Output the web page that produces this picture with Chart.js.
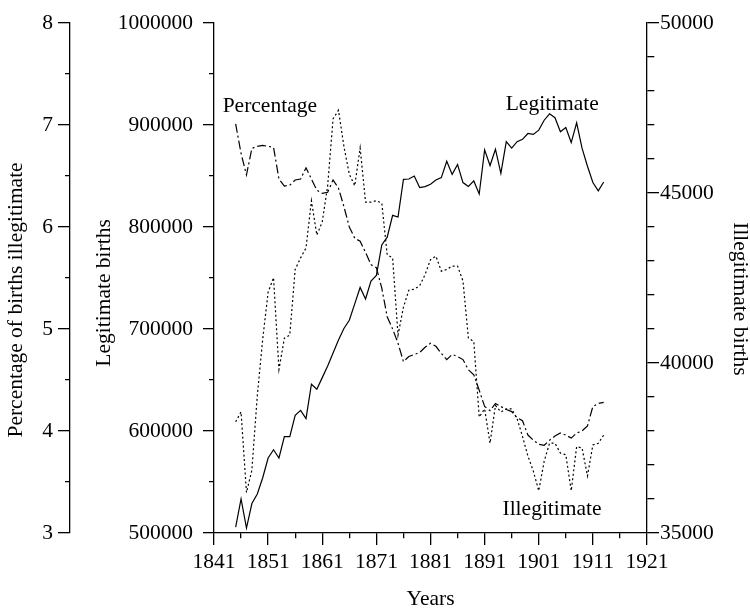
<!DOCTYPE html>
<html>
<head>
<meta charset="utf-8">
<script src="https://cdn.jsdelivr.net/npm/chart.js@4.4.1/dist/chart.umd.min.js"></script>
<style>
  html, body { margin: 0; padding: 0; background: #fff; }
  #wrap { width: 750px; height: 611px; }
</style>
</head>
<body>
<div id="wrap"><canvas id="birthschart" width="750" height="611"></canvas></div>
<script>
// Births in England & Wales
var years = [1845, 1846, 1847, 1848, 1849, 1850, 1851, 1852, 1853, 1854,
  1855, 1856, 1857, 1858, 1859, 1860, 1861, 1862, 1863, 1864,
  1865, 1866, 1867, 1868, 1869, 1870, 1871, 1872, 1873, 1874,
  1875, 1876, 1877, 1878, 1879, 1880, 1881, 1882, 1883, 1884,
  1885, 1886, 1887, 1888, 1889, 1890, 1891, 1892, 1893, 1894,
  1895, 1896, 1897, 1898, 1899, 1900, 1901, 1902, 1903, 1904,
  1905, 1906, 1907, 1908, 1909, 1910, 1911, 1912, 1913];

var legitimate = [505800, 533400, 504800, 528900, 538200, 554200, 573500, 581600, 573500, 594400,
  594400, 615400, 620200, 612100, 645800, 641000, 652300, 663600, 676400, 689200,
  700500, 708500, 724600, 740700, 729400, 747000, 752500, 782400, 790000, 811400,
  809700, 846700, 847000, 849900, 838600, 839500, 841900, 846000, 848300, 864400,
  851500, 861200, 843500, 839600, 845100, 832300, 875600, 860200, 876200, 852500,
  883600, 877200, 883600, 885900, 891600, 890700, 894900, 904600, 910900, 907100,
  893300, 897400, 882700, 902000, 877200, 859500, 843500, 835400, 844100];

var illegitimate = [38270, 38560, 36190, 36850, 39040, 40700, 42080, 42510, 39810, 40730,
  40820, 42750, 43090, 43380, 44770, 43760, 44150, 45210, 47180, 47430,
  46370, 45550, 45210, 46320, 44730, 44730, 44770, 44700, 43180, 43090,
  40820, 41640, 42140, 42170, 42270, 42600, 43040, 43140, 42700, 42750,
  42850, 42850, 42410, 40730, 40630, 38410, 38650, 37640, 38750, 38560,
  38650, 38650, 38360, 37840, 37260, 36820, 36240, 37110, 37640, 37640,
  37350, 37300, 36240, 37540, 37500, 36680, 37590, 37640, 37880];

var percentage = [7.01, 6.72, 6.51, 6.77, 6.79, 6.80, 6.79, 6.78, 6.47, 6.40,
  6.41, 6.46, 6.47, 6.58, 6.47, 6.36, 6.33, 6.34, 6.46, 6.38,
  6.20, 6.00, 5.89, 5.86, 5.75, 5.63, 5.60, 5.40, 5.12, 5.00,
  4.86, 4.68, 4.73, 4.75, 4.77, 4.82, 4.86, 4.83, 4.76, 4.70,
  4.75, 4.73, 4.70, 4.60, 4.55, 4.40, 4.24, 4.20, 4.27, 4.24,
  4.21, 4.19, 4.13, 4.10, 3.96, 3.91, 3.87, 3.86, 3.91, 3.95,
  3.98, 3.96, 3.93, 3.98, 4.00, 4.05, 4.24, 4.27, 4.28];

// labelled ticks (the rest are minor ticks)
var yearLabels = [1841, 1851, 1861, 1871, 1881, 1891, 1901, 1911, 1921];
var pctLabels = [3, 4, 5, 6, 7, 8];
var legitLabels = [500000, 600000, 700000, 800000, 900000, 1000000];
var illegLabels = [35000, 40000, 45000, 50000];

function points(values) {
  return years.map(function (yr, i) { return { x: yr, y: values[i] }; });
}

function isMajor(list, v) {
  return list.indexOf(v) >= 0;
}

// minor ticks: only the part of the tick line next to the axis is drawn.
// bottom/right ticks are stroked from the axis outwards, left ones towards it
function minorDash(list, len, tickLen, fromOutside) {
  return function (ctx) {
    if (isMajor(list, ctx.tick.value)) return [];
    return fromOutside ? [0, tickLen - len, len, 100] : [len, 100];
  };
}

function tickLabel(list) {
  return function (v) { return isMajor(list, v) ? String(v) : ''; };
}

Chart.defaults.font.family = '"Liberation Serif", "Times New Roman", serif';
Chart.defaults.font.size = 21.5;
Chart.defaults.color = '#000';

var FONT = '21.5px "Liberation Serif", "Times New Roman", serif';

// in-plot series names and the axis titles
var textPlugin = {
  id: 'chartText',
  afterDraw: function (chart) {
    var c = chart.ctx;
    var area = chart.chartArea;
    var s = chart.scales;
    c.save();
    c.fillStyle = '#000';
    c.font = FONT;
    c.textAlign = 'left';
    c.textBaseline = 'alphabetic';
    c.fillText('Percentage', s.x.getPixelForValue(1842.6), s.yPct.getPixelForValue(7.13));
    c.fillText('Legitimate', s.x.getPixelForValue(1894.9), s.yLegit.getPixelForValue(914800));
    c.fillText('Illegitimate', s.x.getPixelForValue(1894.3), s.yIlleg.getPixelForValue(35520));

    c.textAlign = 'center';
    c.textBaseline = 'middle';
    var midY = (area.top + area.bottom) / 2;
    function vertical(text, x, y, angle) {
      c.save();
      c.translate(x, y);
      c.rotate(angle);
      c.fillText(text, 0, 0);
      c.restore();
    }
    vertical('Percentage of births illegitimate', 16.5, midY + 22, -Math.PI / 2);
    vertical('Legitimate births', 104.5, midY + 15, -Math.PI / 2);
    vertical('Illegitimate births', 739.5, midY + 21, Math.PI / 2);
    c.fillText('Years', (area.left + area.right) / 2, 599);
    c.restore();
  }
};

var ctx = document.getElementById('birthschart').getContext('2d');
var birthsChart = new Chart(ctx, {
  type: 'line',
  data: {
    datasets: [{
      label: 'Legitimate',
      data: points(legitimate),
      yAxisID: 'yLegit',
      borderColor: '#000',
      borderWidth: 1.2,
      pointRadius: 0,
      tension: 0,
      fill: false
    }, {
      label: 'Illegitimate',
      data: points(illegitimate),
      yAxisID: 'yIlleg',
      borderColor: '#000',
      borderWidth: 1.2,
      borderDash: [2, 2.5],
      pointRadius: 0,
      tension: 0,
      fill: false
    }, {
      label: 'Percentage',
      data: points(percentage),
      yAxisID: 'yPct',
      borderColor: '#000',
      borderWidth: 1.2,
      borderDash: [9, 3, 2, 3],
      pointRadius: 0,
      tension: 0,
      fill: false
    }]
  },
  options: {
    responsive: false,
    maintainAspectRatio: false,
    animation: false,
    events: [],
    layout: { padding: { top: 14, left: 0, right: 0, bottom: 0 } },
    plugins: {
      legend: { display: false },
      tooltip: { enabled: false }
    },
    scales: {
      x: {
        type: 'linear',
        position: 'bottom',
        min: yearLabels[0],
        max: yearLabels[yearLabels.length - 1],
        ticks: { stepSize: 5, padding: 4.8, autoSkip: false, maxRotation: 0, callback: tickLabel(yearLabels) },
        grid: { drawOnChartArea: false, tickLength: 12, color: '#000', lineWidth: 1.3, tickBorderDash: minorDash(yearLabels, 5, 12, false) },
        border: { color: '#000', width: 1.3 },
        afterFit: function (s) { s.height = 78; }
      },
      yPct: {
        type: 'linear',
        position: 'left',
        weight: 1,
        min: pctLabels[0],
        max: pctLabels[pctLabels.length - 1],
        ticks: { stepSize: 0.5, padding: 5, autoSkip: false, callback: tickLabel(pctLabels) },
        grid: { drawOnChartArea: false, tickLength: 12, color: '#000', lineWidth: 1.3, tickBorderDash: minorDash(pctLabels, 5, 12, true) },
        border: { color: '#000', width: 1.3 },
        afterFit: function (s) { s.width = 70; }
      },
      yLegit: {
        type: 'linear',
        position: 'left',
        weight: 0,
        min: legitLabels[0],
        max: legitLabels[legitLabels.length - 1],
        ticks: { stepSize: 50000, padding: 10, autoSkip: false, callback: tickLabel(legitLabels) },
        grid: { drawOnChartArea: false, tickLength: 11, color: '#000', lineWidth: 1.3, tickBorderDash: minorDash(legitLabels, 5, 11, true) },
        border: { color: '#000', width: 1.3 },
        afterFit: function (s) { s.width = 144; }
      },
      yIlleg: {
        type: 'linear',
        position: 'right',
        min: illegLabels[0],
        max: illegLabels[illegLabels.length - 1],
        ticks: { stepSize: 1000, padding: 1, autoSkip: false, callback: tickLabel(illegLabels) },
        grid: { drawOnChartArea: false, tickLength: 12, color: '#000', lineWidth: 1.3, tickBorderDash: minorDash(illegLabels, 7, 12, false) },
        border: { color: '#000', width: 1.3 },
        afterFit: function (s) { s.width = 103; }
      }
    }
  },
  plugins: [textPlugin]
});
</script>
</body>
</html>
